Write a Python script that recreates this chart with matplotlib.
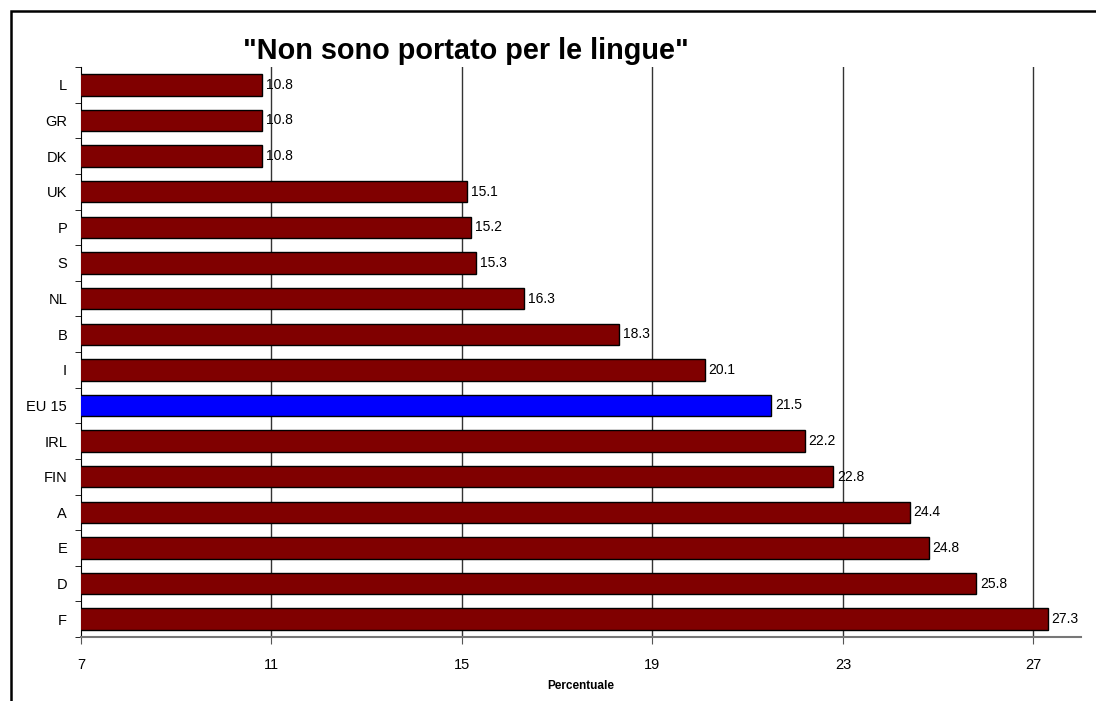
import matplotlib.pyplot as plt
from matplotlib.patches import Rectangle
import numpy as np

# countries listed top to bottom
paesi = ["L", "GR", "DK", "UK", "P", "S", "NL", "B", "I", "EU 15",
         "IRL", "FIN", "A", "E", "D", "F"]
percentuali = [10.8, 10.8, 10.8, 15.1, 15.2, 15.3, 16.3, 18.3, 20.1, 21.5,
               22.2, 22.8, 24.4, 24.8, 25.8, 27.3]
x_ticks = [7, 11, 15, 19, 23, 27]

plt.rcParams['font.family'] = ['Liberation Sans', 'DejaVu Sans']

fig = plt.figure(figsize=(10.96, 7.01), dpi=100)
ax = fig.add_axes([0.0739, 0.0913, 0.9124, 0.8131])

n = len(paesi)
y = np.arange(n)[::-1]
colori = ['#0000FF' if p == "EU 15" else '#800000' for p in paesi]
ax.barh(y, percentuali, height=0.6, color=colori, edgecolor='black', linewidth=1, zorder=3)

for yy, v in zip(y, percentuali):
    ax.text(v + 0.08, yy, f"{v:.1f}", va='center', ha='left', fontsize=10, zorder=4)

ax.set_xlim(7, 28)
ax.set_ylim(-0.5, n - 0.5)
ax.set_xticks(x_ticks)
ax.set_yticks(y)
ax.set_yticklabels(paesi)
ax.set_yticks(np.arange(-0.5, n, 1), minor=True)
ax.tick_params(axis='y', which='major', length=0, labelsize=10.5, pad=10)
ax.tick_params(axis='y', which='minor', length=4, color='black', direction='out')
ax.tick_params(axis='x', length=5, color='#555555', labelsize=10.5, pad=10)

for xv in x_ticks[1:]:
    ax.axvline(xv, color='#333333', linewidth=1, zorder=1)

for s in ['top', 'right']:
    ax.spines[s].set_visible(False)
ax.spines['left'].set_color('black')
ax.spines['bottom'].set_color('#777777')
ax.spines['bottom'].set_linewidth(1.5)

ax.set_xlabel("Percentuale", fontsize=8.5, fontweight='bold', labelpad=6)

fig.text(0.4247, 0.927, '"Non sono portato per le lingue"', ha='center', va='center',
         fontsize=20.8, fontweight='bold')

# frame around the whole chart
fig.patches.append(Rectangle((11 / 1096, -0.05), 1.1, 1.0343,
                             transform=fig.transFigure, fill=False,
                             edgecolor='black', linewidth=1.8))

fig.savefig("out.png", dpi=100)
